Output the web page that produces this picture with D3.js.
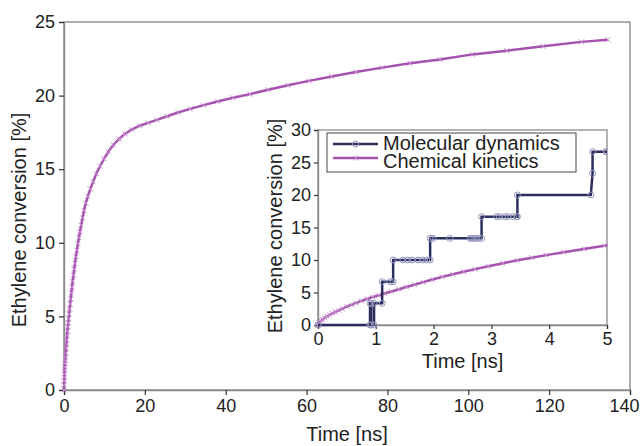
<!DOCTYPE html>
<html>
<head>
<meta charset="utf-8">
<script src="https://cdn.jsdelivr.net/npm/d3@7"></script>
<style>
  body { margin: 0; background: #fff; }
  text { font-family: "Liberation Sans", Arial, sans-serif; fill: #222; }
</style>
</head>
<body>
<div id="chart"></div>
<script>
// chemical kinetics, time [ns] and conversion [%]
var ckTime = [0, 0.02, 0.05, 0.08, 0.12, 0.16, 0.2, 0.25, 0.3, 0.36, 0.42, 0.5, 0.58, 0.66, 0.75, 0.85, 0.95,
  1.05, 1.15, 1.27, 1.4, 1.53, 1.67, 1.82, 1.98, 2.15, 2.33, 2.52, 2.72, 2.95, 3.2, 3.45, 3.7, 3.95, 4.25, 4.6, 4.95,
  5.4, 5.9, 6.5, 7.2, 8.0, 8.9, 9.9, 11.0, 12.2, 13.6, 15.1, 16.8, 18.7, 20.8, 23.0, 25.5, 28.2, 31.2, 34.5,
  38.0, 41.8, 46.0, 50.5, 55.4, 60.6, 66.2, 72.2, 78.7, 85.6, 93.0, 101, 109.5, 118.5, 128, 134.5]
var ckConv = [0, 0.35, 0.62, 0.85, 1.1, 1.35, 1.55, 1.8, 2.0, 2.25, 2.5, 2.85, 3.1, 3.4, 3.7, 4.0, 4.3,
  4.55, 4.85, 5.15, 5.5, 5.85, 6.2, 6.6, 7.0, 7.4, 7.8, 8.2, 8.6, 9.05, 9.5, 9.95, 10.35, 10.75, 11.2, 11.7, 12.2,
  12.7, 13.15, 13.65, 14.15, 14.7, 15.2, 15.7, 16.2, 16.65, 17.05, 17.4, 17.7, 17.95, 18.15, 18.35, 18.6, 18.85, 19.1, 19.35,
  19.6, 19.85, 20.1, 20.4, 20.7, 21.0, 21.3, 21.6, 21.9, 22.2, 22.45, 22.8, 23.05, 23.35, 23.65, 23.8]

// molecular dynamics (inset)
var mdTime = [0, 0.90, 0.90, 0.92, 0.92, 0.97, 0.97, 1.11, 1.11, 1.25, 1.30, 1.30, 1.47, 1.55, 1.63, 1.73, 1.81, 1.88, 1.94,
  1.94, 1.99, 2.28, 2.63, 2.66, 2.70, 2.74, 2.78, 2.83, 2.83, 3.09, 3.14, 3.23, 3.29, 3.38, 3.44, 3.45, 3.45,
  4.72, 4.75, 4.75, 4.98, 5.0]
var mdConv = [0, 0, 3.33, 3.33, 0, 0, 3.33, 3.33, 6.67, 6.67, 6.67, 10, 10, 10, 10, 10, 10, 10, 10,
  13.33, 13.33, 13.33, 13.33, 13.33, 13.33, 13.33, 13.33, 13.33, 16.67, 16.67, 16.67, 16.67, 16.67, 16.67, 16.67, 16.67, 20,
  20, 23.33, 26.67, 26.67, 26.67]

var mainXTicks = [0, 20, 40, 60, 80, 100, 120, 140]
var mainYTicks = [0, 5, 10, 15, 20, 25]
var insetXTicks = [0, 1, 2, 3, 4, 5]
var insetYTicks = [0, 5, 10, 15, 20, 25, 30]
var seriesNames = ["Molecular dynamics", "Chemical kinetics"]

var ckColor = "#a452ae", ckMark = "#c68bcf"
var mdColor = "#2c2e5f", mdMark = "#9294bd"
var frameColor = "#8a8a8a"

var ck = ckTime.map(function (t, i) { return [t, ckConv[i]] })
var md = mdTime.map(function (t, i) { return [t, mdConv[i]] })

var svg = d3.select("#chart").append("svg")
  .attr("width", 643)
  .attr("height", 446)

function crossPath(s) {
  return "M" + (-s) + "," + (-s) + "L" + s + "," + s + "M" + (-s) + "," + s + "L" + s + "," + (-s)
}

function styleAxis(a) {
  a.select(".domain").attr("stroke", frameColor).attr("stroke-width", 1.4)
  a.selectAll(".tick line").attr("stroke", "#333").attr("stroke-width", 1.2)
  a.selectAll(".tick text").style("font-size", "18px").attr("fill", "#222")
    .style("font-family", '"Liberation Sans", Arial, sans-serif')
}

// ---------- main chart ----------
var x = d3.scaleLinear().domain([0, 140]).range([64, 630])
var y = d3.scaleLinear().domain([0, 25]).range([390, 22])

svg.append("rect")
  .attr("x", 64).attr("y", 22)
  .attr("width", 566).attr("height", 368)
  .attr("fill", "none")
  .attr("stroke", frameColor)
  .attr("stroke-width", 1.4)

var xAxis = svg.append("g")
  .attr("transform", "translate(0,390)")
  .call(d3.axisBottom(x).tickValues(mainXTicks).tickSize(5).tickPadding(4))
var yAxis = svg.append("g")
  .attr("transform", "translate(64,0)")
  .call(d3.axisLeft(y).tickValues(mainYTicks).tickSize(5).tickPadding(4))
styleAxis(xAxis)
styleAxis(yAxis)
// last label sits a little left of its tick, as in the original
xAxis.selectAll(".tick text").filter(function (d) { return d === 140 }).attr("dx", -6)

svg.append("text")
  .attr("x", x(70)).attr("y", 441)
  .attr("text-anchor", "middle")
  .style("font-size", "20px")
  .text("Time [ns]")

svg.append("text")
  .attr("transform", "translate(26,220) rotate(-90)")
  .attr("text-anchor", "middle")
  .style("font-size", "20px")
  .text("Ethylene conversion [%]")

var line = d3.line()
  .x(function (d) { return x(d[0]) })
  .y(function (d) { return y(d[1]) })

svg.append("path")
  .datum(ck)
  .attr("d", line)
  .attr("fill", "none")
  .attr("stroke", ckColor)
  .attr("stroke-width", 2.5)

svg.append("g")
  .selectAll("path")
  .data(ck)
  .enter()
  .append("path")
    .attr("transform", function (d) { return "translate(" + x(d[0]) + "," + y(d[1]) + ")" })
    .attr("d", crossPath(2.5))
    .attr("stroke", ckMark)
    .attr("stroke-width", 1)

// ---------- inset ----------
var ix = d3.scaleLinear().domain([0, 5]).range([318, 607])
var iy = d3.scaleLinear().domain([0, 30]).range([325, 130])

svg.append("rect")
  .attr("x", 260).attr("y", 112)
  .attr("width", 355).attr("height", 262)
  .attr("fill", "#fff")

svg.append("defs").append("clipPath")
  .attr("id", "insetClip")
  .append("rect")
    .attr("x", 312).attr("y", 124)
    .attr("width", 295.5).attr("height", 207)

svg.append("rect")
  .attr("x", 318).attr("y", 130)
  .attr("width", 289).attr("height", 195)
  .attr("fill", "none")
  .attr("stroke", frameColor)
  .attr("stroke-width", 1.3)

var ixAxis = svg.append("g")
  .attr("transform", "translate(0,325)")
  .call(d3.axisBottom(ix).tickValues(insetXTicks).tickFormat(d3.format("d")).tickSize(4).tickPadding(3))
var iyAxis = svg.append("g")
  .attr("transform", "translate(318,0)")
  .call(d3.axisLeft(iy).tickValues(insetYTicks).tickSize(4).tickPadding(3))
styleAxis(ixAxis)
styleAxis(iyAxis)

svg.append("text")
  .attr("x", ix(2.5)).attr("y", 368)
  .attr("text-anchor", "middle")
  .style("font-size", "20px")
  .text("Time [ns]")

svg.append("text")
  .attr("transform", "translate(282,226) rotate(-90)")
  .attr("text-anchor", "middle")
  .style("font-size", "20px")
  .text("Ethylene conversion [%]")

var iline = d3.line()
  .x(function (d) { return ix(d[0]) })
  .y(function (d) { return iy(d[1]) })

var plot = svg.append("g").attr("clip-path", "url(#insetClip)")

var ckIn = ck.filter(function (d) { return d[0] <= 6 })

plot.append("path")
  .datum(ckIn)
  .attr("d", iline)
  .attr("fill", "none")
  .attr("stroke", ckColor)
  .attr("stroke-width", 2.5)

plot.append("g")
  .selectAll("path")
  .data(ckIn)
  .enter()
  .append("path")
    .attr("transform", function (d) { return "translate(" + ix(d[0]) + "," + iy(d[1]) + ")" })
    .attr("d", crossPath(2.5))
    .attr("stroke", ckMark)
    .attr("stroke-width", 1)

plot.append("path")
  .datum(md)
  .attr("d", iline)
  .attr("fill", "none")
  .attr("stroke", mdColor)
  .attr("stroke-width", 2.5)

plot.append("g")
  .selectAll("circle")
  .data(md)
  .enter()
  .append("circle")
    .attr("cx", function (d) { return ix(d[0]) })
    .attr("cy", function (d) { return iy(d[1]) })
    .attr("r", 3)
    .attr("fill", "none")
    .attr("stroke", mdMark)
    .attr("stroke-width", 1)

// legend
var legend = svg.append("g")
legend.append("rect")
  .attr("x", 327).attr("y", 133)
  .attr("width", 249).attr("height", 39)
  .attr("fill", "#fff")
  .attr("stroke", "#444")
  .attr("stroke-width", 1)

seriesNames.forEach(function (name, i) {
  var ly = 144 + i * 14
  var col = i === 0 ? mdColor : ckColor
  legend.append("line")
    .attr("x1", 333).attr("x2", 378)
    .attr("y1", ly).attr("y2", ly)
    .attr("stroke", col)
    .attr("stroke-width", 2.5)
  if (i === 0) {
    legend.append("circle")
      .attr("cx", 355.5).attr("cy", ly).attr("r", 3)
      .attr("fill", "none").attr("stroke", mdMark).attr("stroke-width", 1)
  } else {
    legend.append("path")
      .attr("transform", "translate(355.5," + ly + ")")
      .attr("d", crossPath(2.5))
      .attr("stroke", ckMark).attr("stroke-width", 1)
  }
  legend.append("text")
    .attr("x", 383).attr("y", 149.5 + i * 18)
    .style("font-size", "20px")
    .text(name)
})
</script>
</body>
</html>
